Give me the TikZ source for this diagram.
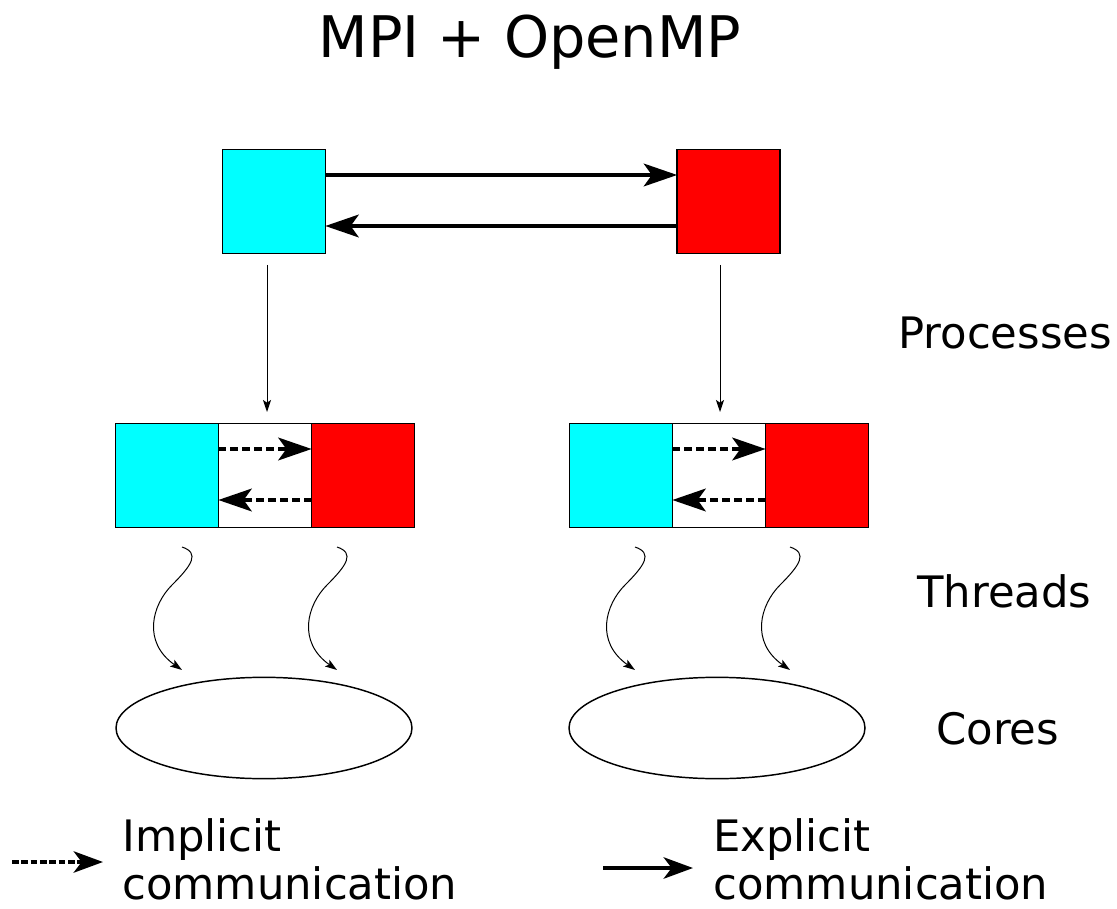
\documentclass[tikz,border=0pt]{standalone}
\usepackage{fontspec}
\setmainfont{DejaVu Sans}
\usetikzlibrary{arrows.meta,shapes.geometric,calc}
\definecolor{cyanrgb}{RGB}{0,255,255}
\definecolor{redrgb}{RGB}{255,0,0}
\begin{document}
\begin{tikzpicture}[x=0.75pt,y=-0.75pt,
  sq/.style={draw=black,line width=1.1pt,minimum width=77pt,minimum height=78pt,inner sep=0pt,outer sep=0pt},
  mid/.style={draw=black,line width=1.1pt,minimum width=70pt,minimum height=78pt,inner sep=0pt,outer sep=0pt,fill=white},
  big/.style={line width=3pt,-{Stealth[length=25pt,width=17pt,inset=6pt]}},
  imp/.style={line width=3pt,dash pattern=on 6pt off 3pt,-{Stealth[length=25pt,width=17pt,inset=6pt]}},
  thin/.style={line width=0.75pt,-{Stealth[length=9pt,width=6pt,inset=2pt]}},
  lbl/.style={font=\fontsize{32.5}{38}\selectfont,inner sep=0pt,anchor=base west},
  core/.style={draw=black,line width=1.1pt,ellipse,minimum width=222pt,minimum height=76pt,inner sep=0pt}
]
\useasboundingbox (0,0) rectangle (1117,909);
% title
\node[font=\fontsize{43}{50}\selectfont,anchor=base,inner sep=0pt] (title) at (530,58) {MPI + OpenMP};
% processes
\node[sq,fill=cyanrgb] (pc) at (274,201.5) {};
\node[sq,fill=redrgb] (pr) at (728.5,201.5) {};
\draw[big] (pc.east |- 0,175) -- (pr.west |- 0,175);
\draw[big] (pr.west |- 0,226) -- (pc.east |- 0,226);
% thread boxes left
\node[mid] (lm) at (265,475.5) {};
\node[sq,fill=cyanrgb,anchor=east] (lc) at (lm.west) {};
\node[sq,fill=redrgb,anchor=west] (lr) at (lm.east) {};
\draw[imp] (lm.west |- 0,449) -- (lr.west |- 0,449);
\draw[imp] (lr.west |- 0,500) -- (lm.west |- 0,500);
% thread boxes right
\node[mid] (rm) at (719,475.5) {};
\node[sq,fill=cyanrgb,anchor=east] (rc) at (rm.west) {};
\node[sq,fill=redrgb,anchor=west] (rr) at (rm.east) {};
\draw[imp] (rm.west |- 0,449) -- (rr.west |- 0,449);
\draw[imp] (rr.west |- 0,500) -- (rm.west |- 0,500);
% process to threads
\coordinate (a1) at (267,265);
\coordinate (a2) at (267,412);
\coordinate (b1) at (720,265);
\coordinate (b2) at (720,412);
\draw[thin] (a1) -- (a2);
\draw[thin] (b1) -- (b2);
% cores
\node[core] (lcore) at (264,728) {};
\node[core] (rcore) at (717,728) {};
% curvy thread arrows
\foreach \n/\x in {t1/182,t2/337,t3/635,t4/790}{
  \coordinate (\n s) at (\x,547);
  \coordinate (\n e) at (\x,670);
  \draw[thin] (\n s) .. controls ($(\n s)+(18,6)$) and ($(\n s)+(10,18)$) .. ($(\n s)+(-10,38)$)
     .. controls ($(\n s)+(-30,58)$) and ($(\n s)+(-40,95)$) .. (\n e);
}
% labels
\node[lbl] (proc) at (898,348) {Processes};
\node[lbl] (thr) at (917,607) {Threads};
\node[lbl] (cor) at (936,744) {Cores};
% legend
\coordinate (li1) at (12,862);
\coordinate (li2) at (103,862);
\draw[line width=3pt,dash pattern=on 5pt off 2pt,-{Stealth[length=22pt,width=16pt,inset=6pt]}] (li1) -- (li2);
\node[lbl] (imp1) at (122,851) {Implicit};
\node[lbl] (imp2) at (122,899) {communication};
\coordinate (le1) at (603,868);
\coordinate (le2) at (693,868);
\draw[line width=3pt,-{Stealth[length=22pt,width=16pt,inset=6pt]}] (le1) -- (le2);
\node[lbl] (exp1) at (713,851) {Explicit};
\node[lbl] (exp2) at (713,899) {communication};
\end{tikzpicture}
\end{document}
